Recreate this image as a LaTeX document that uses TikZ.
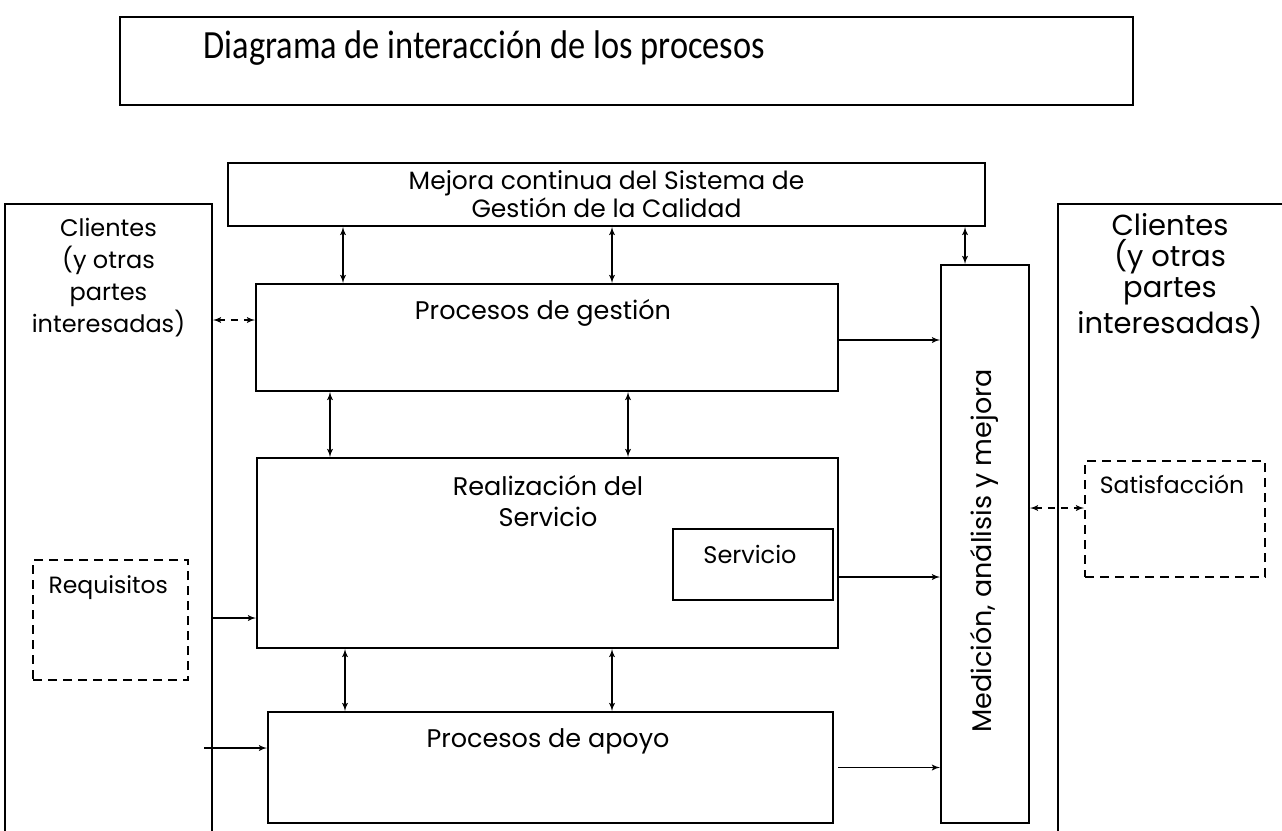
\documentclass[tikz,border=0pt]{standalone}
\usepackage{fontspec}
\setmainfont{Poppins}
\newfontfamily\titlefont[FakeStretch=0.86]{Carlito}
\usepackage{tikz}
\usetikzlibrary{arrows}
\tikzstyle{every node}=[font=\fontsize{25.5}{31}\selectfont]
\tikzstyle{caja}=[draw,
                  line width=2pt,
                  inner sep=0pt
                  ]
\tikzstyle{punteada}=[draw,
                      line width=2pt,
                      dash pattern=on 9pt off 6pt,
                      inner sep=0pt]
\tikzstyle{flujo}=[line width=1.8pt]
\tikzstyle{enlace}=[line width=1.8pt,dash pattern=on 7pt off 6pt]

\begin{document}
\begin{tikzpicture}[x=1pt,y=-1pt,>=latex']
\useasboundingbox (0,0) rectangle (1282,830);
\clip (0,0) rectangle (1282,830);
\node (Titulo) [caja,minimum width=1013pt,minimum height=88pt] at (626.5,61) {};
\node (tTitulo) [anchor=west,font=\titlefont\fontsize{40}{44}\selectfont] at (200,48) {Diagrama de interacción de los procesos};
\node (Mejora) [caja,minimum width=757pt,minimum height=63pt] at (606.5,194.5) {};
\node (tMejora) [align=center,font=\fontsize{25}{26}\selectfont] at (606.5,194) {Mejora continua del Sistema de\\Gestión de la Calidad};
\node (ClientesIn) [caja,minimum width=207pt,minimum height=696pt] at (108.5,552) {};
\node (tClientesIn) [align=center,font=\fontsize{24}{32}\selectfont] at (108.5,278) {Clientes\\(y otras\\partes\\interesadas)};
\node (ClientesOut) [caja,minimum width=262pt,minimum height=696pt] at (1189,552) {};
\node (tClientesOut) [align=center,font=\fontsize{29}{31}\selectfont] at (1170,276) {Clientes\\(y otras\\partes\\interesadas)};
\node (Gestion) [caja,minimum width=582pt,minimum height=107pt] at (547,337.5) {};
\node (tGestion) at (543,313) {Procesos de gestión};
\node (Realizacion) [caja,minimum width=581pt,minimum height=190pt] at (547.5,553) {};
\node (tRealizacion) [align=center] at (548,501) {Realización del\\Servicio};
\node (Servicio) [caja,minimum width=160pt,minimum height=71pt] at (753,564.5) {};
\node (tServicio) [font=\fontsize{24}{28}\selectfont] at (750,554) {Servicio};
\node (Apoyo) [caja,minimum width=565pt,minimum height=111pt] at (550.5,767.5) {};
\node (tApoyo) at (548,741) {Procesos de apoyo};
\node (Medicion) [caja,minimum width=88pt,minimum height=558pt] at (985,544) {};
\node (tMedicion) [rotate=90,font=\fontsize{27}{31}\selectfont] at (984,551) {Medición, análisis y mejora};
\node (Requisitos) [punteada,minimum width=155pt,minimum height=120pt] at (110.5,620) {};
\node (tRequisitos) [anchor=west,font=\fontsize{23.5}{27}\selectfont] at (45,588) {Requisitos};
\node (Satisfaccion) [punteada,minimum width=180pt,minimum height=116pt] at (1175,519) {};
\node (tSatisfaccion) [font=\fontsize{23.5}{27}\selectfont] at (1172,484) {Satisfacción};
\coordinate (entApoyo) at (204,748);
 \path[<->] (Mejora.south -| 343,0) edge[flujo] (Gestion.north -| 343,0);
 \path[<->] (Mejora.south -| 612,0) edge[flujo] (Gestion.north -| 612,0);
 \path[<->] (Mejora.south -| 965,0) edge[flujo] (Medicion.north -| 965,0);
 \path[<->] (Gestion.south -| 330,0) edge[flujo] (Realizacion.north -| 330,0);
 \path[<->] (Gestion.south -| 628,0) edge[flujo] (Realizacion.north -| 628,0);
 \path[<->] (Realizacion.south -| 345,0) edge[flujo] (Apoyo.north -| 345,0);
 \path[<->] (Realizacion.south -| 612,0) edge[flujo] (Apoyo.north -| 612,0);
 \path[<->] (ClientesIn.east |- 0,320) edge[enlace] (Gestion.west |- 0,320);
 \path[->] (ClientesIn.east |- 0,618) edge[flujo] (Realizacion.west |- 0,618);
 \path[->] (entApoyo) edge[flujo] (Apoyo.west |- entApoyo);
 \path[->] (Gestion.east |- 0,340) edge[flujo] (Medicion.west |- 0,340);
 \path[->] (Realizacion.east |- 0,577) edge[flujo] (Medicion.west |- 0,577);
 \path[->] ([xshift=4pt]Apoyo.east) edge[flujo] (Medicion.west |- Apoyo.east);
 \path[<->] (Medicion.east |- 0,508) edge[enlace] (Satisfaccion.west |- 0,508);
\end{tikzpicture}
\end{document}
